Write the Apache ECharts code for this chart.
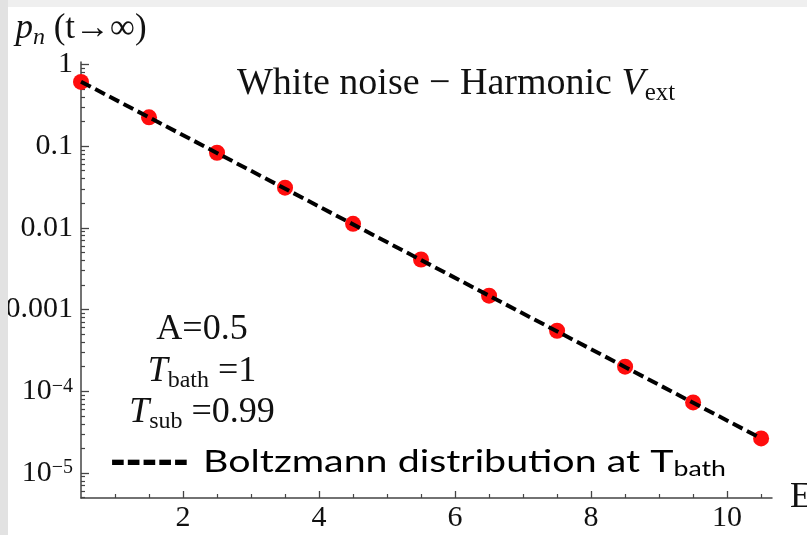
<!DOCTYPE html>
<html><head><meta charset="utf-8">
<script src="https://cdn.jsdelivr.net/npm/echarts@6/dist/echarts.min.js"></script>
<style>html,body{margin:0;padding:0;background:#fff}#c{width:807px;height:535px}</style>
</head><body><div id="c"></div>
<script>
// ---- data ----
const energies = [0.5, 1.5, 2.5, 3.5, 4.5, 5.5, 6.5, 7.5, 8.5, 9.5, 10.5];
const populations = [0.61, 0.225, 0.083, 0.031, 0.0112, 0.0041, 0.00148, 0.00055, 0.0002, 0.000073, 0.0000265];
const boltzE = [0.5, 10.5];
const boltzP = [0.615, 0.0000265];
const xMajorTicks = [2, 4, 6, 8, 10];
const xMinorTicks = [1, 1.5, 2.5, 3, 3.5, 4.5, 5, 5.5, 6.5, 7, 7.5, 8.5, 9, 9.5, 10.5];
const yMajorTicks = [0.00001, 0.0001, 0.001, 0.01, 0.1, 1];
const yTickLabels = ['10{s|−5}', '10{s|−4}', '0.001', '0.01', '0.1', '1'];
const yMinorMultipliers = [2, 3, 4, 5, 6, 7, 8, 9];
const yMinorDecades = [0.000001, 0.00001, 0.0001, 0.001, 0.01, 0.1];

const yMinorTicks = [];
yMinorDecades.forEach(d => yMinorMultipliers.forEach(m => yMinorTicks.push(+(m * d).toPrecision(3))));

const serif = 'Liberation Serif';
const ink = '#111';
const axisColor = '#444';
const xMin = 0.5, xMax = 10.66, yMin = 0.00000494, yMax = 1.07;

function mathRich(size, subSize, fill) {
  const c = fill ? 'fill' : 'color';
  return {
    n: {fontFamily: serif, fontSize: size, fontWeight: 'normal', [c]: ink, lineHeight: size + 6},
    i: {fontFamily: serif, fontSize: size, fontWeight: 'normal', fontStyle: 'italic', [c]: ink, lineHeight: size + 6},
    s: {fontFamily: serif, fontSize: subSize, fontWeight: 'normal', [c]: ink, lineHeight: subSize, verticalAlign: 'bottom'},
    is: {fontFamily: serif, fontSize: subSize, fontWeight: 'normal', fontStyle: 'italic', [c]: ink, lineHeight: subSize, verticalAlign: 'bottom'}
  };
}

const chart = echarts.init(document.getElementById('c'), null, {renderer: 'canvas'});
chart.setOption({
  backgroundColor: '#ffffff',
  animation: false,
  grid: {left: 81, right: 35, top: 62, bottom: 37, containLabel: false, outerBoundsMode: 'none'},
  title: {
    text: '{n|White noise − Harmonic }{i|V}{s|ext}',
    left: 232, top: 57,
    textStyle: {fontWeight: 'normal', rich: mathRich(38, 25, false)}
  },
  xAxis: [{
    type: 'value', min: xMin, max: xMax,
    name: 'E', nameLocation: 'end', nameGap: 18,
    nameTextStyle: {fontFamily: serif, fontSize: 36, color: ink, align: 'left', verticalAlign: 'middle'},
    axisLine: {show: true, lineStyle: {color: axisColor, width: 1.5}},
    axisTick: {show: true, inside: true, length: 7, customValues: xMajorTicks, lineStyle: {color: axisColor, width: 1.3}},
    axisLabel: {show: true, customValues: xMajorTicks, margin: 5, fontFamily: serif, fontSize: 30, color: ink},
    splitLine: {show: false}
  }, {
    type: 'value', min: xMin, max: xMax, position: 'bottom',
    axisLine: {show: false},
    axisTick: {show: true, inside: true, length: 4, customValues: xMinorTicks, lineStyle: {color: axisColor, width: 1.2}},
    axisLabel: {show: false},
    splitLine: {show: false}
  }],
  yAxis: [{
    type: 'log', logBase: 10, min: yMin, max: yMax,
    name: '{i|p}{is|n}{n| (t→∞)}', nameLocation: 'end', nameGap: 8,
    nameTextStyle: {align: 'center', rich: mathRich(35, 24, false)},
    axisLine: {show: true, lineStyle: {color: axisColor, width: 1.5}},
    axisTick: {show: true, inside: true, length: 8, customValues: yMajorTicks, lineStyle: {color: axisColor, width: 1.3}},
    minorTick: {show: false},
    axisLabel: {
      show: true, customValues: yMajorTicks, margin: 8,
      formatter: v => yTickLabels[Math.round(Math.log10(v)) + 5],
      fontFamily: serif, fontSize: 30, color: ink,
      rich: {s: {fontFamily: serif, fontSize: 20, color: ink, lineHeight: 20, verticalAlign: 'top'}}
    },
    splitLine: {show: false}
  }, {
    type: 'log', logBase: 10, min: yMin, max: yMax, position: 'left',
    axisLine: {show: false},
    axisTick: {show: true, inside: true, length: 4, customValues: yMinorTicks, lineStyle: {color: axisColor, width: 1.2}},
    axisLabel: {show: false},
    splitLine: {show: false}
  }],
  graphic: [
    {type: 'text', z: 100, style: {x: 202, y: 330, text: '{n|A=0.5}', align: 'center', verticalAlign: 'middle', rich: mathRich(36, 24, true)}},
    {type: 'text', z: 100, style: {x: 202, y: 372, align: 'center', verticalAlign: 'middle',
      text: '{i|T}{s|bath}{n| =1}', rich: mathRich(36, 24, true)}},
    {type: 'text', z: 100, style: {x: 202, y: 413, align: 'center', verticalAlign: 'middle',
      text: '{i|T}{s|sub}{n| =0.99}', rich: mathRich(36, 24, true)}},
    {type: 'text', z: 100, style: {x: 110, y: 463, align: 'left', verticalAlign: 'middle',
      text: '-----', font: 'bold 38px "DejaVu Sans"', fill: '#000'}},
    {type: 'text', z: 100, x: 203, y: 462, scaleX: 1.27, style: {x: 0, y: 0, align: 'left', verticalAlign: 'middle',
      text: '{n|Boltzmann distribution at T}{s|bath}',
      rich: {
        n: {fontFamily: 'Lato', fontSize: 31, fill: '#000', lineHeight: 36},
        s: {fontFamily: 'Lato', fontSize: 21, fill: '#000', lineHeight: 21, verticalAlign: 'bottom'}
      }}},
    {type: 'rect', z: 200, shape: {x: 0, y: 0, width: 807, height: 7}, style: {fill: '#efefef'}},
    {type: 'rect', z: 200, shape: {x: 0, y: 0, width: 8, height: 535}, style: {fill: '#e2e2e2'}}
  ],
  series: [{
    type: 'line', name: 'Boltzmann', xAxisIndex: 0, yAxisIndex: 0,
    data: boltzE.map((e, i) => [e, boltzP[i]]),
    showSymbol: false, symbol: 'none', z: 3,
    lineStyle: {color: '#000', width: 4, type: [11, 5]}
  }, {
    type: 'scatter', name: 'p_n', xAxisIndex: 0, yAxisIndex: 0,
    data: energies.map((e, i) => [e, populations[i]]),
    symbol: 'circle', symbolSize: 16, z: 2,
    itemStyle: {color: '#ff0d0d', opacity: 1}
  }]
});
</script>
</body></html>
